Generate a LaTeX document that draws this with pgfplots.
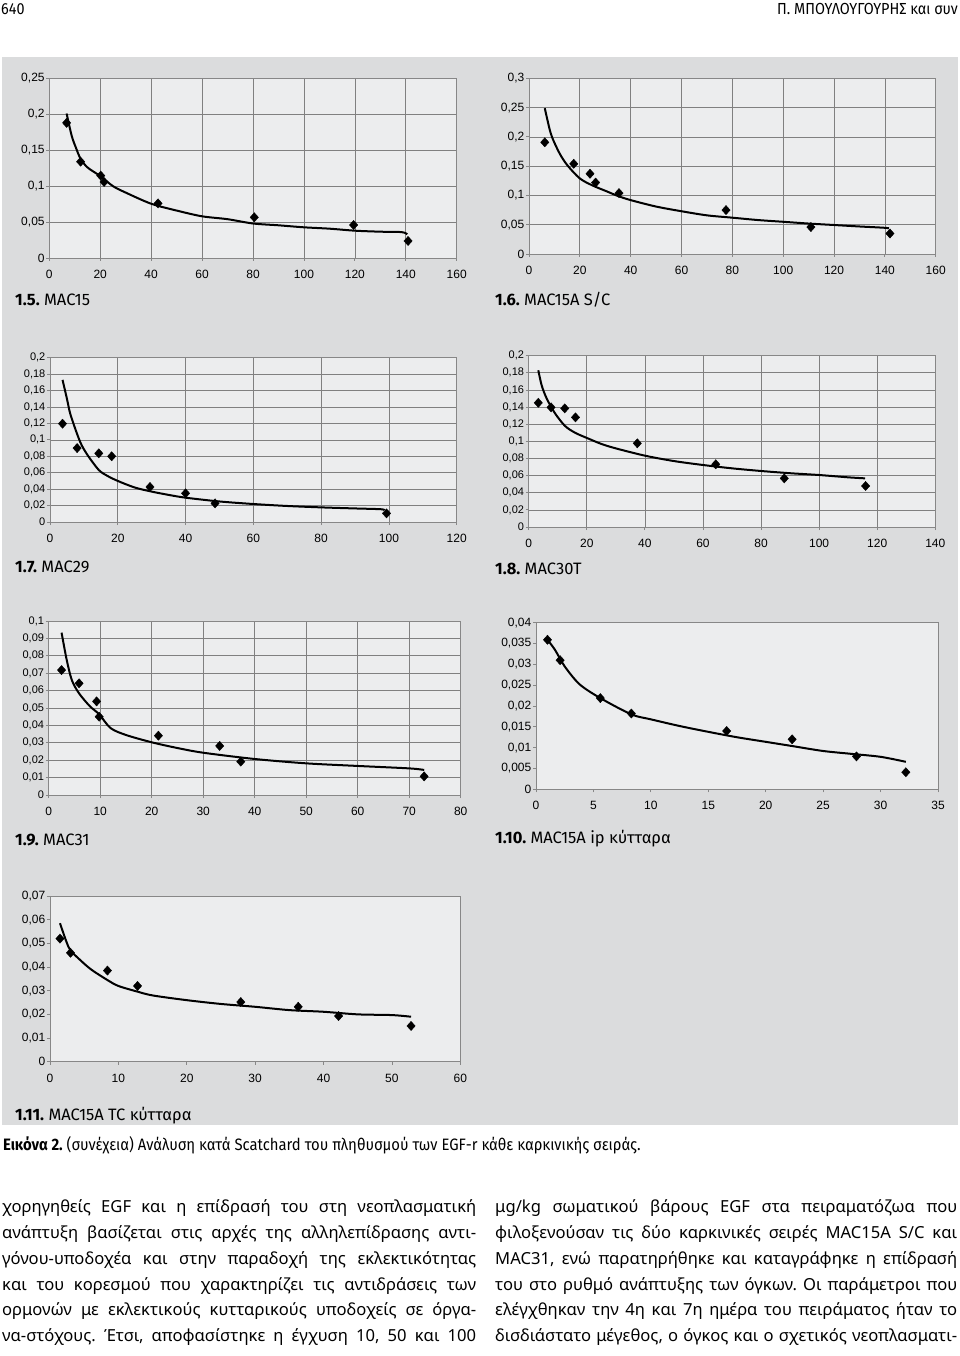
\documentclass[border=0pt]{standalone}
\usepackage{fontspec}
\setmainfont{Fira Sans}
\newfontfamily\tickfont{Liberation Sans}
\newfontfamily\condfont[FakeStretch=0.9]{Fira Sans}
\newfontfamily\bodyfont{Noto Sans}
\usepackage{pgfplots}
\pgfplotsset{compat=1.18}
\definecolor{panelbg}{RGB}{219,220,221}
\definecolor{plotbg}{RGB}{236,237,238}
\definecolor{gridc}{RGB}{128,128,128}
\definecolor{axc}{RGB}{135,135,135}
\pgfplotsset{
  scat/.style={scale only axis, anchor=south west,
    axis background/.style={fill=plotbg},
    axis line style={draw=axc, line width=0.8pt},
    tick style={draw=axc, line width=0.8pt},
    major tick length=3pt,
    tick align=outside, tick pos=left,
    grid style={draw=gridc, line width=0.7pt},
    ticklabel style={font=\tickfont\fontsize{12}{14}\selectfont},
    scaled ticks=false,
    /pgf/number format/assume math mode=true,
    /pgf/number format/use comma,
    /pgf/number format/fixed,
    /pgf/number format/precision=3,
    /pgf/number format/1000 sep={},
    yticklabel style={inner xsep=1.5pt},
    xticklabel style={inner ysep=3pt, yshift=-6pt},
    clip=false,
  },
  smally/.style={yticklabel style={font=\tickfont\fontsize{11}{13}\selectfont}},
  fitc/.style={black, line width=2pt, smooth, no marks},
  pts/.style={only marks, mark=diamond*, mark size=4.6pt, black, mark options={xscale=1.2}},
}
\newcommand{\ttl}[2]{{\fontsize{16.5}{18}\selectfont\textbf{#1} #2}}
\newcommand{\bl}[1]{\makebox[474pt][s]{#1}}
\newcommand{\br}[1]{\makebox[462pt][s]{#1}}
\begin{document}
\frenchspacing
\begin{tikzpicture}
\path[use as bounding box] (0,0) rectangle (960pt,-1356pt);
\fill[white] (0,0) rectangle (960pt,-1356pt);
\fill[panelbg] (2pt,-57pt) rectangle (958pt,-1125pt);

% header
\node[anchor=base west, inner sep=0] at (1pt,-15pt) {\condfont\fontsize{16}{18}\selectfont 640};
\node[anchor=base east, inner sep=0] at (958pt,-15pt) {\condfont\fontsize{16}{18}\selectfont Π. ΜΠΟΥΛΟΥΓΟΥΡΗΣ και συν};

% 1.5
\begin{axis}[scat, at={(49.3pt,-258pt)}, width=407.4pt, height=179.7pt,
  xmin=0, xmax=160, ymin=0, ymax=0.25, xtick={0,20,...,160},
  ytick={0,0.05,0.1,0.15,0.2,0.25}, grid=major]
\addplot[fitc] coordinates {(6.8,0.201) (8.8,0.170) (10.5,0.153) (12.3,0.138) (15,0.126) (20,0.114) (25,0.100) (30,0.091) (40,0.0755) (50,0.066) (60,0.058) (70,0.054) (80,0.048) (90,0.0455) (100,0.0427) (110,0.0408) (120,0.038) (130,0.0366) (138.4,0.036) (140.6,0.033)};
\addplot[pts] coordinates {(6.8,0.188) (12.3,0.134) (20.2,0.1146) (21.5,0.1058) (42.7,0.076) (80.5,0.0566) (119.5,0.0459) (140.9,0.0237)};
\end{axis}
\node[anchor=base west, inner sep=0] at (15pt,-305.7pt) {\ttl{1.5.}{MAC15}};

% 1.6
\begin{axis}[scat, at={(529pt,-254pt)}, width=406.7pt, height=175.7pt,
  xmin=0, xmax=160, ymin=0, ymax=0.3, xtick={0,20,...,160},
  ytick={0,0.05,0.1,0.15,0.2,0.25,0.3}, grid=major]
\addplot[fitc] coordinates {(6.2,0.249) (8,0.215) (9.2,0.198) (12,0.172) (15,0.152) (20,0.129) (25,0.117) (30,0.108) (35,0.099) (40,0.092) (50,0.081) (60,0.073) (70,0.066) (80,0.062) (90,0.058) (100,0.055) (110,0.052) (120,0.0495) (130,0.047) (139,0.045) (141.6,0.044)};
\addplot[pts] coordinates {(6.2,0.1907) (17.6,0.154) (24.0,0.137) (26.2,0.122) (35.4,0.104) (77.5,0.075) (110.9,0.046) (142.0,0.035)};
\end{axis}
\node[anchor=base west, inner sep=0] at (495pt,-305.7pt) {\ttl{1.6.}{MAC15A S/C}};

% 1.7
\begin{axis}[scat, smally, at={(50pt,-522pt)}, width=406.7pt, height=164.3pt,
  xmin=0, xmax=120, ymin=0, ymax=0.2, xtick={0,20,...,120},
  ytick={0,0.02,0.04,0.06,0.08,0.1,0.12,0.14,0.16,0.18,0.2}, grid=major]
\addplot[fitc] coordinates {(3.7,0.173) (5,0.150) (6.1,0.130) (8.85,0.098) (11,0.082) (14.4,0.0633) (17,0.056) (20,0.050) (25,0.042) (30,0.037) (35,0.033) (40,0.0296) (50,0.025) (60,0.0219) (70,0.0195) (80,0.0178) (90,0.0165) (97.5,0.0156) (98.7,0.0145)};
\addplot[pts] coordinates {(3.7,0.1197) (8.0,0.090) (14.4,0.0836) (18.2,0.080) (29.5,0.0426) (40.0,0.0349) (48.7,0.0227) (99.3,0.0105)};
\end{axis}
\node[anchor=base west, inner sep=0] at (15pt,-572.7pt) {\ttl{1.7.}{MAC29}};

% 1.8
\begin{axis}[scat, smally, at={(528.7pt,-527pt)}, width=406.6pt, height=171.3pt,
  xmin=0, xmax=140, ymin=0, ymax=0.2, xtick={0,20,...,140},
  ytick={0,0.02,0.04,0.06,0.08,0.1,0.12,0.14,0.16,0.18,0.2}, grid=major]
\addplot[fitc] coordinates {(3.3,0.183) (4.5,0.165) (6.2,0.150) (9,0.133) (12.5,0.118) (16,0.110) (20,0.104) (25,0.097) (30,0.0918) (40,0.0833) (50,0.077) (60,0.0724) (70,0.0685) (80,0.0654) (90,0.0628) (100,0.0607) (110,0.058) (115.8,0.0568)};
\addplot[pts] coordinates {(3.3,0.145) (7.7,0.1397) (12.4,0.1385) (16.1,0.128) (37.4,0.0977) (64.4,0.0732) (88.0,0.0568) (116.0,0.0479)};
\end{axis}
\node[anchor=base west, inner sep=0] at (495pt,-574.3pt) {\ttl{1.8.}{MAC30T}};

% 1.9
\begin{axis}[scat, smally, at={(48.7pt,-795pt)}, width=412pt, height=174pt,
  xmin=0, xmax=80, ymin=0, ymax=0.1, xtick={0,10,...,80},
  ytick={0,0.01,0.02,0.03,0.04,0.05,0.06,0.07,0.08,0.09,0.1}, grid=major]
\addplot[fitc] coordinates {(2.5,0.0933) (3.5,0.0776) (4.5,0.066) (5.9,0.0584) (8,0.051) (9.8,0.0464) (12,0.0385) (15,0.0345) (20,0.0303) (25,0.027) (30,0.0243) (40,0.0207) (50,0.0182) (60,0.0167) (70,0.0153) (72.9,0.0144)};
\addplot[pts] coordinates {(2.5,0.0718) (5.9,0.0642) (9.3,0.0538) (9.8,0.045) (21.3,0.0341) (33.2,0.0282) (37.3,0.0192) (72.9,0.0107)};
\end{axis}
\node[anchor=base west, inner sep=0] at (15pt,-845pt) {\ttl{1.9.}{MAC31}};

% 1.10
\begin{axis}[scat, at={(536pt,-789.3pt)}, width=402pt, height=166.6pt,
  xmin=0, xmax=35, ymin=0, ymax=0.04, xtick={0,5,...,35},
  ytick={0,0.005,0.01,0.015,0.02,0.025,0.03,0.035,0.04}]
\addplot[fitc] coordinates {(1.0,0.0359) (1.65,0.0335) (2.5,0.0295) (3.8,0.0252) (5.6,0.0219) (8.3,0.018) (10,0.0168) (12.5,0.0152) (15,0.0138) (17.5,0.0125) (20,0.0114) (22.5,0.0103) (25,0.0092) (27.5,0.0085) (30,0.0078) (32.2,0.0066)};
\addplot[pts] coordinates {(1.0,0.0359) (2.1,0.031) (5.6,0.0219) (8.3,0.0182) (16.6,0.014) (22.3,0.012) (27.9,0.0079) (32.2,0.0041)};
\end{axis}
\node[anchor=base west, inner sep=0] at (495pt,-843.3pt) {\ttl{1.10.}{MAC15A ip κύτταρα}};

% 1.11
\begin{axis}[scat, at={(50pt,-1061.7pt)}, width=410.3pt, height=165.7pt,
  xmin=0, xmax=60, ymin=0, ymax=0.07, xtick={0,10,...,60},
  ytick={0,0.01,0.02,0.03,0.04,0.05,0.06,0.07}]
\addplot[fitc] coordinates {(1.46,0.0585) (2.4,0.0507) (3,0.047) (4.4,0.043) (6,0.039) (8.4,0.0345) (10,0.032) (12.8,0.0296) (15,0.028) (20,0.026) (25,0.0244) (30,0.0232) (35,0.0218) (40,0.0211) (45,0.020) (50,0.0197) (52.8,0.019)};
\addplot[pts] coordinates {(1.46,0.052) (3.0,0.046) (8.4,0.0385) (12.8,0.032) (27.9,0.0252) (36.3,0.0232) (42.2,0.0193) (52.8,0.0151)};
\end{axis}
\node[anchor=base west, inner sep=0] at (15pt,-1120.7pt) {\ttl{1.11.}{MAC15A TC κύτταρα}};

% caption
\node[anchor=base west, inner sep=0] at (3pt,-1150pt) {\condfont\fontsize{16.5}{18}\selectfont\textbf{Εικόνα 2.} (συνέχεια) Ανάλυση κατά Scatchard του πληθυσμού των EGF-r κάθε καρκινικής σειράς.};

% body text
\begin{scope}[every node/.style={anchor=base west, inner sep=0, font=\bodyfont\fontsize{16.6}{20}\selectfont}]
\node at (2pt,-1212.3pt) {\bl{χορηγηθείς EGF και η επίδρασή του στη νεοπλασματική}};
\node at (2pt,-1238.3pt) {\bl{ανάπτυξη βασίζεται στις αρχές της αλληλεπίδρασης αντι-}};
\node at (2pt,-1264pt) {\bl{γόνου-υποδοχέα και στην παραδοχή της εκλεκτικότητας}};
\node at (2pt,-1290pt) {\bl{και του κορεσμού που χαρακτηρίζει τις αντιδράσεις των}};
\node at (2pt,-1315.7pt) {\bl{ορμονών με εκλεκτικούς κυτταρικούς υποδοχείς σε όργα-}};
\node at (2pt,-1341.7pt) {\bl{να-στόχους. Έτσι, αποφασίστηκε η έγχυση 10, 50 και 100}};
\node at (495pt,-1212.3pt) {\br{μg/kg σωματικού βάρους EGF στα πειραματόζωα που}};
\node at (495pt,-1238.3pt) {\br{φιλοξενούσαν τις δύο καρκινικές σειρές MAC15A S/C και}};
\node at (495pt,-1264pt) {\br{MAC31, ενώ παρατηρήθηκε και καταγράφηκε η επίδρασή}};
\node at (495pt,-1290pt) {\br{του στο ρυθμό ανάπτυξης των όγκων. Οι παράμετροι που}};
\node at (495pt,-1315.7pt) {\br{ελέγχθηκαν την 4η και 7η ημέρα του πειράματος ήταν το}};
\node at (495pt,-1341.7pt) {\br{δισδιάστατο μέγεθος, ο όγκος και ο σχετικός νεοπλασματι-}};
\end{scope}
\end{tikzpicture}
\end{document}
